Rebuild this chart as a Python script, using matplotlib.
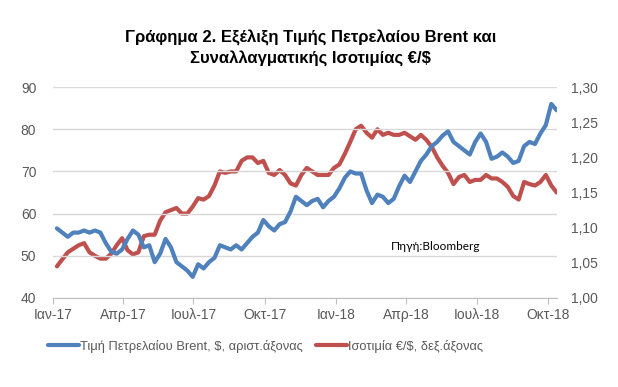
import matplotlib
matplotlib.use("Agg")
import matplotlib.pyplot as plt
import pandas as pd

plt.rcParams['font.family'] = ['Liberation Sans', 'DejaVu Sans']

# weekly closes (Fridays)
dates = pd.date_range("2017-01-06", periods=93, freq="7D")
brent = [56.5, 55.5, 54.5, 55.5, 55.5, 56.0, 55.5, 56.0, 55.5, 53.0,
         51.0, 50.5, 51.5, 54.0, 56.0, 55.0, 52.0, 52.5, 48.5, 50.5,
         54.0, 52.0, 48.5, 47.5, 46.5, 45.0, 48.0, 47.0, 48.5, 49.5,
         52.5, 52.0, 51.5, 52.5, 51.5, 53.0, 54.5, 55.5, 58.5, 57.0,
         56.0, 57.5, 58.0, 60.5, 64.0, 63.0, 62.0, 63.0, 63.5, 61.5,
         63.0, 64.0, 66.0, 68.5, 70.0, 69.5, 69.5, 65.5, 62.5, 64.5,
         64.0, 62.5, 63.5, 66.5, 69.0, 67.5, 70.0, 72.5, 74.0, 76.0,
         77.0, 78.5, 79.5, 77.0, 76.0, 75.0, 74.0, 77.0, 79.0, 77.0,
         73.0, 73.5, 74.5, 73.5, 72.0, 72.5, 76.0, 77.0, 76.5, 79.0,
         81.0, 86.0, 84.5]
eurusd = [1.045, 1.055, 1.065, 1.070, 1.075, 1.078, 1.065, 1.060, 1.056, 1.056,
          1.063, 1.075, 1.085, 1.068, 1.062, 1.065, 1.088, 1.090, 1.090, 1.110,
          1.122, 1.125, 1.128, 1.120, 1.120, 1.130, 1.142, 1.140, 1.145, 1.160,
          1.180, 1.178, 1.180, 1.180, 1.195, 1.200, 1.200, 1.192, 1.195, 1.178,
          1.175, 1.182, 1.175, 1.163, 1.160, 1.175, 1.185, 1.180, 1.175, 1.175,
          1.175, 1.185, 1.190, 1.205, 1.222, 1.240, 1.245, 1.235, 1.228, 1.240,
          1.232, 1.235, 1.232, 1.232, 1.235, 1.230, 1.225, 1.232, 1.225, 1.215,
          1.200, 1.188, 1.178, 1.162, 1.172, 1.175, 1.165, 1.168, 1.168, 1.175,
          1.170, 1.170, 1.165, 1.158, 1.145, 1.140, 1.165, 1.162, 1.160, 1.165,
          1.175, 1.160, 1.150]
tick_dates = pd.to_datetime(["2017-01-01", "2017-04-01", "2017-07-01", "2017-10-01",
                             "2018-01-01", "2018-04-01", "2018-07-01", "2018-10-01"])
tick_labels = ["Ιαν-17", "Απρ-17", "Ιουλ-17", "Οκτ-17",
               "Ιαν-18", "Απρ-18", "Ιουλ-18", "Οκτ-18"]

BLUE = "#4F81BD"
RED = "#C0504D"
GREY = "#595959"

fig = plt.figure(figsize=(6.18, 3.87), dpi=100)
ax = fig.add_axes([0.0858, 0.230, 0.815, 0.545])
ax2 = ax.twinx()

l1, = ax.plot(dates, brent, color=BLUE, lw=3.0, solid_capstyle='round',
              solid_joinstyle='round', label="Τιμή Πετρελαίου Brent, $, αριστ.άξονας")
l2, = ax2.plot(dates, eurusd, color=RED, lw=3.0, solid_capstyle='round',
               solid_joinstyle='round', label="Ισοτιμία €/$, δεξ.άξονας")
ax.set_zorder(ax2.get_zorder() + 1)
ax.patch.set_visible(False)

ax.set_ylim(40, 90)
ax.set_yticks(range(40, 91, 10))
ax2.set_ylim(1.0, 1.3)
ax2.set_yticks([1.0, 1.05, 1.1, 1.15, 1.2, 1.25, 1.3])
ax2.set_yticklabels([f"{v:.2f}".replace(".", ",") for v in ax2.get_yticks()])
ax.set_xlim(pd.Timestamp("2017-01-01"), pd.Timestamp("2018-10-12"))
ax.set_xticks(tick_dates)
ax.set_xticklabels(tick_labels)

ax.grid(axis='y', color="#D9D9D9", lw=1)
ax.set_axisbelow(True)
for a in (ax, ax2):
    for s in a.spines.values():
        s.set_visible(False)
ax.spines['bottom'].set_visible(True)
ax.spines['bottom'].set_color("#BFBFBF")
ax.tick_params(axis='x', colors=GREY, labelsize=10, length=4, color="#BFBFBF", pad=3)
ax.tick_params(axis='y', colors=GREY, labelsize=10, length=0, pad=12)
ax2.tick_params(axis='y', colors=GREY, labelsize=10, length=0, pad=10)

fig.text(0.503, 0.903, "Γράφημα 2. Εξέλιξη Τιμής Πετρελαίου Brent και",
         ha='center', va='center', fontsize=12, fontweight='bold')
fig.text(0.503, 0.851, "Συναλλαγματικής Ισοτιμίας €/$",
         ha='center', va='center', fontsize=12, fontweight='bold')
fig.text(0.633, 0.362, "Πηγή:Bloomberg", ha='left', va='center',
         fontsize=8.5, family=['Lato', 'DejaVu Sans'])

fig.legend(handles=[l1, l2], loc='center', bbox_to_anchor=(0.43, 0.105), ncol=2,
           frameon=False, fontsize=9.3, labelcolor=GREY, handlelength=2.4,
           handletextpad=0.1, columnspacing=1.0)

fig.savefig("out.png", dpi=100)
